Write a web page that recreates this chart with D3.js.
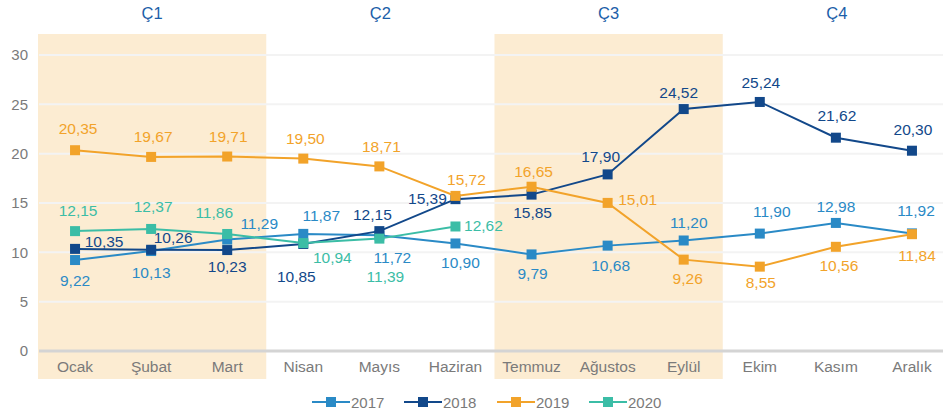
<!DOCTYPE html>
<html><head><meta charset="utf-8">
<script src="https://cdn.jsdelivr.net/npm/d3@7"></script>
<style>body{margin:0;background:#fff}svg{display:block;font-family:"Liberation Sans",Arial,sans-serif}</style>
</head><body><svg id="c" width="943" height="418"></svg>
<script>
const months = ["Ocak","Şubat","Mart","Nisan","Mayıs","Haziran","Temmuz","Ağustos","Eylül","Ekim","Kasım","Aralık"];
const quarters = ["Ç1","Ç2","Ç3","Ç4"];
const shadedQuarters = [0, 2];
const yTicks = [0,5,10,15,20,25,30];
const seriesNames = ["2017","2018","2019","2020"];
const v2017 = [9.22,10.13,11.29,11.87,11.72,10.90,9.79,10.68,11.20,11.90,12.98,11.92];
const v2018 = [10.35,10.26,10.23,10.85,12.15,15.39,15.85,17.90,24.52,25.24,21.62,20.30];
const v2019 = [20.35,19.67,19.71,19.50,18.71,15.72,16.65,15.01,9.26,8.55,10.56,11.84];
const v2020 = [12.15,12.37,11.86,10.94,11.39,12.62];
const colors = ["#2a8ac6","#12488a","#f2a32a","#3bbda6"];
// label placement offsets (dx, dy) relative to marker
const off2017 = [[0,20],[0,21],[32,-16],[18,-18],[13,22],[5,19],[1,19],[3,20],[5,-18],[12,-22],[0,-16],[4,-23]];
const off2018 = [[29,-7],[22,-12],[0,16],[-7,33],[-7,-17],[-28,-1],[1,18],[-7,-18],[-5,-17],[1,-19],[1,-22],[1,-21]];
const off2019 = [[3,-22],[2,-20],[1,-20],[2,-20],[2,-20],[11,-16],[2,-15],[30,-3],[4,19],[1,16],[3,19],[5,21]];
const off2020 = [[3,-21],[2,-22],[-13,-21],[29,14],[6,38],[28,-1]];

const series = [v2017,v2018,v2019,v2020].map((v,i)=>({name:seriesNames[i],values:v,color:colors[i],off:[off2017,off2018,off2019,off2020][i]}));

const svg = d3.select("#c");
const x = d3.scaleBand().domain(months).range([37, 950]).padding(0);
const y = d3.scaleLinear().domain([0,30]).range([351,55]);
const cx = m => x(m) + x.bandwidth()/2;
const fmt = v => d3.format(".2f")(v).replace(".", ",");

// shaded quarters
shadedQuarters.forEach(q=>{
  svg.append("rect").attr("x", x(months[q*3])+1).attr("y",34)
    .attr("width", x.bandwidth()*3).attr("height", 345).attr("fill","#fcecd2");
});
// quarter labels
quarters.forEach((q,i)=>{
  svg.append("text").attr("x", x(months[i*3]) + x.bandwidth()*1.5 + 1).attr("y",19)
    .attr("text-anchor","middle").attr("fill","#1b5ea8").attr("font-size",16.5).text(q);
});
// gridlines
const yAxis = d3.axisLeft(y).tickValues(yTicks).tickSize(0).tickPadding(0).tickFormat(d3.format("d"));
const gy = svg.append("g").attr("transform","translate(28,0)").call(yAxis);
gy.select(".domain").remove();
gy.selectAll("text").attr("font-size",15).attr("fill","#7a7a7a").attr("font-family","Liberation Sans, Arial, sans-serif");
svg.append("g").selectAll("line").data(yTicks.filter(t=>t>0)).join("line")
  .attr("x1",39).attr("x2",943).attr("y1",d=>y(d)).attr("y2",d=>y(d))
  .attr("stroke","#f3f3f3").attr("stroke-width",2);
svg.append("line").attr("x1",39).attr("x2",943).attr("y1",y(0)).attr("y2",y(0))
  .attr("stroke","#d4d4d4").attr("stroke-width",3);
// x axis labels
const xAxis = d3.axisBottom(x).tickSize(0).tickPadding(0);
const gx = svg.append("g").attr("transform","translate(0,361)").call(xAxis);
gx.select(".domain").remove();
gx.selectAll("text").attr("font-size",15.5).attr("fill","#7a7a7a").attr("dy","0.72em").attr("font-family","Liberation Sans, Arial, sans-serif");

// series
const line = d3.line().x((d,i)=>cx(months[i])).y(d=>y(d));
series.forEach(s=>{
  const g = svg.append("g");
  g.append("path").datum(s.values).attr("d",line).attr("fill","none").attr("stroke",s.color).attr("stroke-width",2);
  g.selectAll("rect").data(s.values).join("rect")
    .attr("x",(d,i)=>cx(months[i])-5).attr("y",d=>y(d)-5).attr("width",10).attr("height",10).attr("fill",s.color);
});
series.forEach(s=>{
  svg.append("g").selectAll("text").data(s.values).join("text")
    .attr("x",(d,i)=>cx(months[i])+s.off[i][0]).attr("y",(d,i)=>y(d)+s.off[i][1])
    .attr("text-anchor","middle").attr("dominant-baseline","central")
    .attr("font-size",15.5).attr("fill",s.color).text(d=>fmt(d));
});

// legend
const legX = [312,404,497,589];
series.forEach((s,i)=>{
  const g = svg.append("g").attr("transform",`translate(${legX[i]},402)`);
  g.append("line").attr("x1",0).attr("x2",38).attr("y1",0).attr("y2",0).attr("stroke",s.color).attr("stroke-width",2);
  g.append("rect").attr("x",14).attr("y",-5).attr("width",10).attr("height",10).attr("fill",s.color);
  g.append("text").attr("x",39).attr("y",0).attr("dominant-baseline","central").attr("font-size",15).attr("fill","#7a7a7a").text(s.name);
});
</script></body></html>
